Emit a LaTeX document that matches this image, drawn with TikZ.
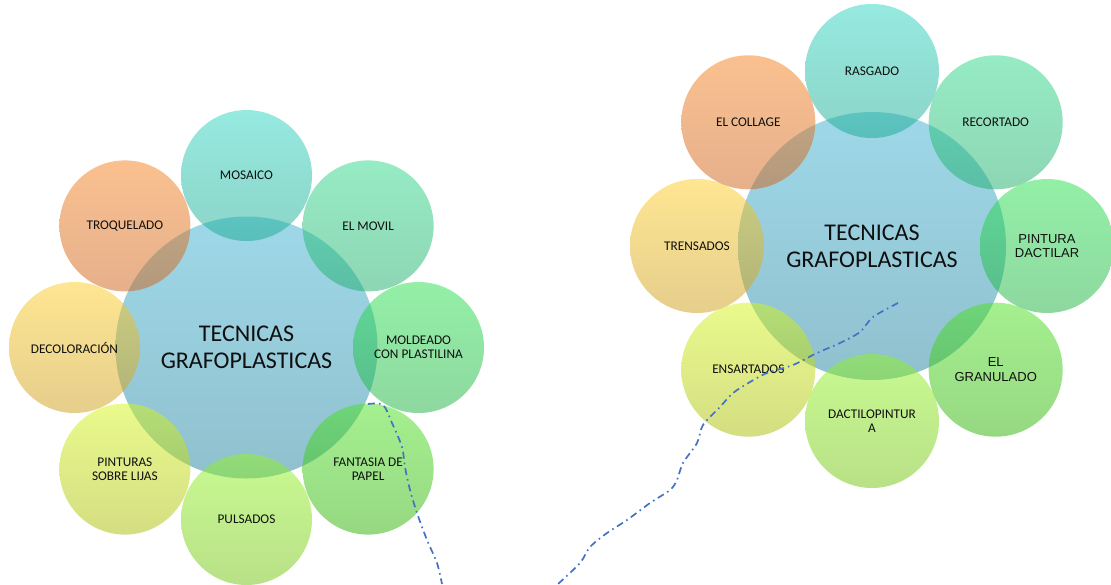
\documentclass[tikz,border=0pt]{standalone}
\usepackage{fontspec}
\setmainfont{Carlito}
\newfontfamily\arialf{Liberation Sans}
\usetikzlibrary{calc}
\definecolor{cTop}{RGB}{158,216,232}\definecolor{cBot}{RGB}{144,192,206}
\definecolor{tealT}{RGB}{45,213,193}\definecolor{tealB}{RGB}{25,169,145}
\definecolor{mintT}{RGB}{45,217,137}\definecolor{mintB}{RGB}{29,173,105}
\definecolor{grnAT}{RGB}{39,225,77}\definecolor{grnAB}{RGB}{29,177,65}
\definecolor{grnBT}{RGB}{75,225,31}\definecolor{grnBB}{RGB}{45,177,5}
\definecolor{limeT}{RGB}{145,245,35}\definecolor{limeB}{RGB}{115,195,15}
\definecolor{ylgT}{RGB}{213,245,25}\definecolor{ylgB}{RGB}{169,189,5}
\definecolor{yelT}{RGB}{253,205,37}\definecolor{yelB}{RGB}{205,157,25}
\definecolor{orgT}{RGB}{245,129,31}\definecolor{orgB}{RGB}{205,97,25}
\definecolor{lineblue}{RGB}{68,114,196}
\definecolor{txt}{RGB}{15,15,15}
\tikzset{
  hub/.style={circle, inner sep=0pt, minimum size=#1, shade, top color=cTop, bottom color=cBot,
    text=txt, align=center, font=\fontsize{24}{26.7}\selectfont},
  petal/.style 2 args={circle, inner sep=0pt, minimum size=#1, shade, top color=#2T, bottom color=#2B,
    fill opacity=0.5, text opacity=1, text=txt, align=center, font=\fontsize{13.3}{14}\selectfont},
  arialtext/.style={font=\arialf\fontsize{13}{14.5}\selectfont},
  trail/.style={draw=lineblue, line width=1.7pt, dash pattern=on 7pt off 4pt on 1.6pt off 4pt}
}
\begin{document}
\begin{tikzpicture}[x=1pt,y=-1pt]
\useasboundingbox (0,0) rectangle (1111,584);
% ---------- left diagram ----------
\coordinate (LC) at (246.5,347.5);
\node[hub=262] (L0) at (LC) {TECNICAS\\GRAFOPLASTICAS};
\node[petal={131}{teal}] (L1) at ($(LC)+(0,-172)$) {MOSAICO};
\node[petal={131}{mint}] (L2) at ($(LC)+(121.6,-121.6)$) {EL MOVIL};
\node[petal={131}{grnA}] (L3) at ($(LC)+(172,0)$) {MOLDEADO\\CON PLASTILINA};
\node[petal={131}{grnB}] (L4) at ($(LC)+(121.6,121.6)$) {FANTASIA DE\\PAPEL};
\node[petal={131}{lime}] (L5) at ($(LC)+(0,172)$) {PULSADOS};
\node[petal={131}{ylg}] (L6) at ($(LC)+(-121.6,121.6)$) {PINTURAS\\SOBRE LIJAS};
\node[petal={131}{yel}] (L7) at ($(LC)+(-172,0)$) {DECOLORACIÓN};
\node[petal={131}{org}] (L8) at ($(LC)+(-121.6,-121.6)$) {TROQUELADO};
% ---------- right diagram ----------
\coordinate (RC) at (872,246);
\node[hub=268] (R0) at (RC) {TECNICAS\\GRAFOPLASTICAS};
\node[petal={134}{teal}] (R1) at ($(RC)+(0,-175)$) {RASGADO};
\node[petal={134}{mint}] (R2) at ($(RC)+(123.7,-123.7)$) {RECORTADO};
\node[petal={134}{grnA}, arialtext] (R3) at ($(RC)+(175,0)$) {PINTURA\\DACTILAR};
\node[petal={134}{grnB}, arialtext, font=\arialf\fontsize{13}{15}\selectfont] (R4) at ($(RC)+(123.7,123.7)$) {EL\\GRANULADO};
\node[petal={134}{lime}] (R5) at ($(RC)+(0,175)$) {DACTILOPINTUR\\A};
\node[petal={134}{ylg}] (R6) at ($(RC)+(-123.7,123.7)$) {ENSARTADOS};
\node[petal={134}{yel}] (R7) at ($(RC)+(-175,0)$) {TRENSADOS};
\node[petal={134}{org}] (R8) at ($(RC)+(-123.7,-123.7)$) {EL COLLAGE};
% ---------- dash-dot strokes ----------
\coordinate (la) at (368,404);
\coordinate (lb) at (442,584);
\draw[trail] plot[smooth, tension=0.5] coordinates {(la) (383,405) (392,423) (402,447) (405,467) (410,490) (417,513) (427,540) (437,563) (lb)};
\coordinate (ra) at (898,303);
\coordinate (rb) at (558,584);
\draw[trail] plot[smooth, tension=0.5] coordinates {(ra) (873,317) (860,332) (840,343) (817,353) (793,365) (767,373) (750,382) (733,393) (720,407) (703,425) (697,443) (683,463) (677,480) (670,490) (650,503) (627,520) (607,533) (590,547) (580,563) (rb)};
\end{tikzpicture}
\end{document}
